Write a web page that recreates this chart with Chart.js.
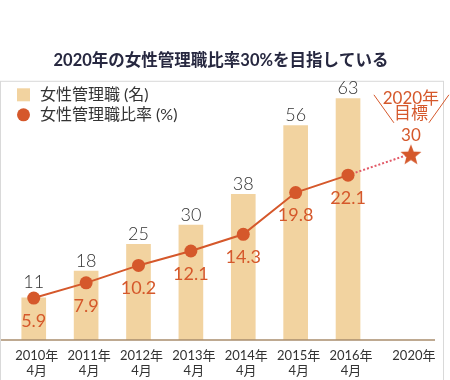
<!DOCTYPE html>
<html><head><meta charset="utf-8">
<script src="https://cdn.jsdelivr.net/npm/chart.js@4"></script>
<style>html,body{margin:0;padding:0;background:#fff}#wrap{width:450px;height:380px;position:relative}canvas{display:block}</style>
</head><body><div id="wrap"><canvas id="c" width="450" height="380"></canvas></div>
<script>
// ---- data ----
const categoryLabels = [['2010年','4月'],['2011年','4月'],['2012年','4月'],['2013年','4月'],['2014年','4月'],['2015年','4月'],['2016年','4月'],['2020年']];
const timeAxisIndex = [0, 1, 2, 3, 4, 5, 6, 7.2];
const womenManagers = [11, 18, 25, 30, 38, 56, 63];
const womenRatio = [5.9, 7.9, 10.2, 12.1, 14.3, 19.8, 22.1];
const targetLabel = '目標';
const targetRatio = 30;
const titleText = '2020年の女性管理職比率30%を目指している';
const seriesNames = ['女性管理職 (名)', '女性管理職比率 (%)'];

// ---- styles ----
const FONT = "Lato, 'Noto Sans CJK JP', 'Noto Sans', sans-serif";
const ORANGE = '#d5582b';
const BAR = '#f2d3a0';
const TEXT = '#333333';

function starCanvas(r, color) {
  const size = Math.ceil(r * 2 + 2);
  const cv = document.createElement('canvas');
  cv.width = cv.height = size;
  const g = cv.getContext('2d');
  g.fillStyle = color;
  g.beginPath();
  for (let i = 0; i < 10; i++) {
    const rad = i % 2 ? r * 0.43 : r;
    const a = -Math.PI / 2 + i * Math.PI / 5;
    const px = size / 2 + rad * Math.cos(a), py = size / 2 + 1.5 + rad * Math.sin(a);
    if (i) g.lineTo(px, py); else g.moveTo(px, py);
  }
  g.closePath(); g.fill();
  return cv;
}

Chart.defaults.font.family = FONT;

const extras = {
  id: 'extras',
  beforeDatasetDraw(chart, args) {
    if (args.index !== 0) return;
    const line = chart.getDatasetMeta(0).data;
    const star = chart.getDatasetMeta(2).data[0];
    const last = line[line.length - 1];
    const ctx = chart.ctx;
    ctx.save();
    ctx.strokeStyle = '#e25a68';
    ctx.lineWidth = 2;
    ctx.setLineDash([2, 2]);
    ctx.beginPath();
    ctx.moveTo(last.x, last.y);
    ctx.lineTo(star.x, star.y);
    ctx.stroke();
    ctx.restore();
  },
  afterDatasetsDraw(chart) {
    const ctx = chart.ctx;
    const {chartArea} = chart;
    const y0 = chart.scales.yCount.getPixelForValue(0);
    ctx.save();
    // outer frame
    ctx.strokeStyle = '#d9d9d9';
    ctx.lineWidth = 1;
    ctx.strokeRect(0.5, chartArea.top - 0.5, 443, 400);
    // baseline
    ctx.strokeStyle = '#a88c6c';
    ctx.lineWidth = 1.5;
    ctx.beginPath();
    ctx.moveTo(1, y0);
    ctx.lineTo(chartArea.right, y0);
    ctx.stroke();

    // legend (inside frame, top-left)
    const lx = chartArea.left + 5, ly = chartArea.top + 13;
    ctx.fillStyle = BAR;
    ctx.fillRect(lx, ly - 6.5, 13, 13);
    ctx.fillStyle = ORANGE;
    ctx.beginPath();
    ctx.arc(lx + 6.5, ly + 20, 6.5, 0, Math.PI * 2);
    ctx.fill();
    ctx.fillStyle = TEXT;
    ctx.font = '400 16px ' + FONT;
    ctx.textAlign = 'left';
    ctx.textBaseline = 'middle';
    ctx.fillText(seriesNames[0], lx + 23, ly);
    ctx.fillText(seriesNames[1], lx + 23, ly + 20);

    const bars = chart.getDatasetMeta(1).data;
    const pts = chart.getDatasetMeta(0).data;
    ctx.textAlign = 'center';
    // bar value labels
    ctx.fillStyle = TEXT;
    ctx.font = '300 18px ' + FONT;
    bars.forEach((b, i) => {
      const p = pts[i];
      const extra = (p && Math.abs(p.y - b.y) < 8) ? 6 : 0;
      ctx.fillText(String(womenManagers[i]), b.x, b.y - 10 - extra);
    });
    // ratio labels
    ctx.fillStyle = ORANGE;
    ctx.font = '400 18px ' + FONT;
    pts.forEach((p, i) => {
      ctx.fillText(womenRatio[i].toFixed(1), p.x, p.y + 23);
    });
    // target annotation
    const star = chart.getDatasetMeta(2).data[0];
    const sx = star.x, sy = star.y;
    ctx.font = '400 17px ' + FONT;
    ctx.fillText(String(targetRatio), sx, sy - 18);
    ctx.fillText(categoryLabels[categoryLabels.length - 1][0], sx, sy - 55);
    ctx.fillText(targetLabel, sx, sy - 40);
    ctx.strokeStyle = ORANGE;
    ctx.lineWidth = 1;
    ctx.beginPath();
    ctx.moveTo(sx - 37, sy - 59); ctx.lineTo(sx - 17, sy - 31);
    ctx.moveTo(sx + 38, sy - 59); ctx.lineTo(sx + 18, sy - 31);
    ctx.stroke();
    ctx.restore();
  }
};

new Chart(document.getElementById('c'), {
  type: 'bar',
  data: {
    datasets: [
      {
        type: 'line', label: seriesNames[1],
        data: womenRatio.map((v, i) => ({x: timeAxisIndex[i], y: v})),
        yAxisID: 'yRatio', borderColor: ORANGE, backgroundColor: ORANGE,
        borderWidth: 2, pointRadius: 6.5, pointHoverRadius: 6.5, pointBorderWidth: 0,
        order: 1
      },
      {
        type: 'bar', label: seriesNames[0],
        data: womenManagers.map((v, i) => ({x: timeAxisIndex[i], y: v})),
        yAxisID: 'yCount', backgroundColor: BAR, barThickness: 24,
        order: 3
      },
      {
        type: 'line', label: targetLabel,
        data: [{x: timeAxisIndex[timeAxisIndex.length - 1], y: targetRatio}],
        yAxisID: 'yTarget', showLine: false,
        pointStyle: starCanvas(11, ORANGE), pointRadius: 11, pointHoverRadius: 11,
        order: 0
      }
    ]
  },
  options: {
    responsive: false,
    animation: false,
    devicePixelRatio: 1,
    layout: {padding: {left: 7, right: 15, top: 0, bottom: 0}},
    scales: {
      x: {
        type: 'linear', min: -0.415, max: 7.66, offset: false,
        grid: {display: false, drawTicks: false},
        border: {display: false},
        afterBuildTicks: s => { s.ticks = timeAxisIndex.map(v => ({value: v})); },
        afterFit: s => { s.height = 40; },
        ticks: {
          autoSkip: false, maxRotation: 0, padding: 9, labelOffset: 3,
          color: TEXT, font: {size: 13, lineHeight: 1.1},
          callback: (v, i) => categoryLabels[i]
        }
      },
      yCount: {display: false, min: 0, max: 67.4},
      yRatio: {display: false, min: 0.37, max: 34.4},
      yTarget: {display: false, min: 0, max: 41.6}
    },
    plugins: {
      tooltip: {enabled: false},
      legend: {display: false},
      title: {
        display: true, text: titleText, color: '#272840',
        font: {size: 16.5, weight: 'bold'},
        padding: {top: 51, bottom: 11}
      }
    }
  },
  plugins: [extras]
});
</script>
</body></html>
